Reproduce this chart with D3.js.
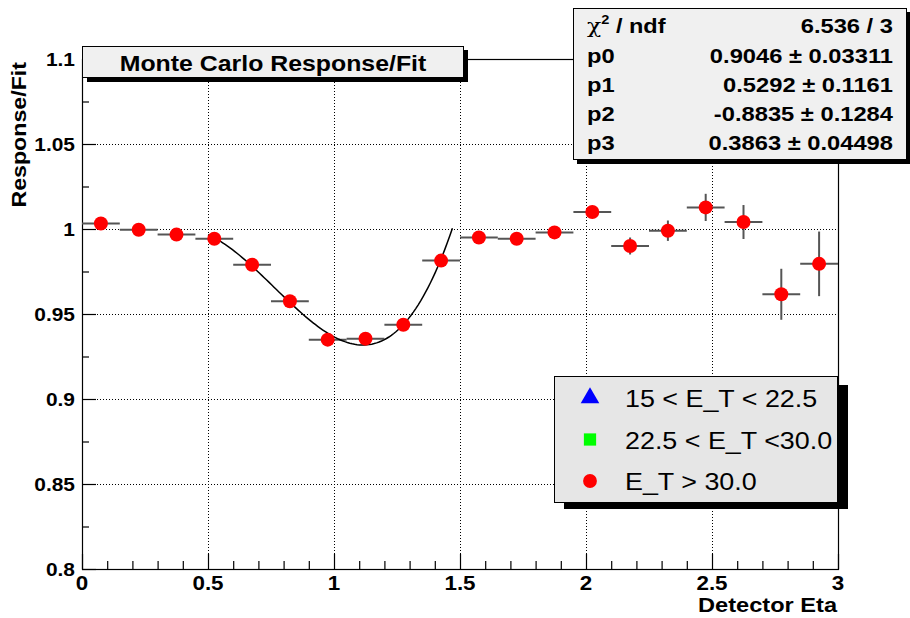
<!DOCTYPE html>
<html>
<head>
<meta charset="utf-8">
<script src="https://cdn.jsdelivr.net/npm/d3@7"></script>
<style>
  body { margin: 0; background: #fff; }
  text { font-family: "Liberation Sans", Arial, sans-serif; }
</style>
</head>
<body>
<script>
const width = 910;
const height = 618;

// bin centres (Detector Eta), bin half width 0.075
const etaBins = [0.075, 0.225, 0.375, 0.525, 0.675, 0.825, 0.975, 1.125, 1.275, 1.425,
	1.575, 1.725, 1.875, 2.025, 2.175, 2.325, 2.475, 2.625, 2.775, 2.925];
const response = [1.0032, 0.9996, 0.9967, 0.9943, 0.979, 0.9575, 0.9349, 0.9355, 0.9437, 0.9814,
	0.995, 0.9943, 0.998, 1.010, 0.990, 0.999, 1.0127, 1.0041, 0.9616, 0.9795];
const responseErr = [0.002, 0.002, 0.002, 0.002, 0.002, 0.002, 0.002, 0.002, 0.002, 0.002,
	0.002, 0.002, 0.002, 0.003, 0.005, 0.006, 0.008, 0.010, 0.015, 0.019];
const binHalf = 0.075;

// cubic fit parameters
const fitPars = [0.9046, 0.5292, -0.8835, 0.3863];
const fitRange = [0.5, 1.47];

const statLabels = ["p0", "p1", "p2", "p3"];
const statValues = ["0.9046 \u00b1 0.03311", "0.5292 \u00b1 0.1161", "-0.8835 \u00b1 0.1284", "0.3863 \u00b1 0.04498"];
const chiText = "6.536 / 3";

const legendLabels = ["15 < E_T < 22.5", "22.5 < E_T <30.0", "E_T > 30.0"];
const legendColors = ["#0000ff", "#00ff00", "#ff0000"];
const legendShapes = [d3.symbolTriangle, d3.symbolSquare, d3.symbolCircle];

const xTicks = [0, 0.5, 1, 1.5, 2, 2.5, 3];
const yTicks = [0.8, 0.85, 0.9, 0.95, 1, 1.05, 1.1];

const svg = d3.select("body").append("svg")
	.attr("width", width)
	.attr("height", height);

const x = d3.scaleLinear().domain([0, 3]).range([82, 838]);
const y = d3.scaleLinear().domain([0.8, 1.1]).range([569, 59]);

// the original font is wider than Arial: stretch along the text direction
const place = (px, py, sx, rot) => `translate(${px},${py}) rotate(${rot || 0}) scale(${sx},1)`;

// grid
const grid = svg.append("g").attr("stroke", "#000").attr("stroke-width", 1).attr("stroke-dasharray", "1,2");
grid.selectAll(".gx").data(xTicks.slice(1, -1)).enter().append("line")
	.attr("x1", d => x(d) + 0.5).attr("x2", d => x(d) + 0.5)
	.attr("y1", y(0.8)).attr("y2", y(1.1));
grid.selectAll(".gy").data(yTicks.slice(1, -1)).enter().append("line")
	.attr("y1", d => Math.round(y(d)) + 0.5).attr("y2", d => Math.round(y(d)) + 0.5)
	.attr("x1", x(0)).attr("x2", x(3));

// frame
svg.append("rect")
	.attr("x", x(0) + 0.5).attr("y", y(1.1) + 0.5)
	.attr("width", x(3) - x(0)).attr("height", y(0.8) - y(1.1))
	.attr("fill", "none").attr("stroke", "#000").attr("stroke-width", 1.2);

// axes with ROOT-like inward ticks
const xAxis = svg.append("g").attr("transform", `translate(0,${y(0.8)})`)
	.call(d3.axisTop(x).tickValues(d3.range(0, 3.001, 0.1)).tickSize(8).tickFormat(""));
xAxis.selectAll(".tick line").filter(d => Math.abs(d * 2 - Math.round(d * 2)) < 1e-6).attr("y2", -15);
xAxis.select(".domain").remove();
xAxis.selectAll("line").attr("stroke-width", 1.2);

svg.append("g").selectAll("text").data(xTicks).enter().append("text")
	.attr("transform", d => place(x(d), 590, 1.12))
	.attr("text-anchor", "middle").attr("font-size", 20).attr("font-weight", "bold")
	.text(d => d);

const yAxis = svg.append("g").attr("transform", `translate(${x(0)},0)`)
	.call(d3.axisRight(y).tickValues(d3.range(0.8, 1.1001, 0.025)).tickSize(7).tickFormat(""));
yAxis.selectAll(".tick line").filter(d => Math.abs(d * 20 - Math.round(d * 20)) < 1e-6).attr("x2", 14);
yAxis.select(".domain").remove();
yAxis.selectAll("line").attr("stroke-width", 1.2);

svg.append("g").selectAll("text").data(yTicks).enter().append("text")
	.attr("transform", d => place(75, y(d) + 7, 1.1))
	.attr("text-anchor", "end").attr("font-size", 19).attr("font-weight", "bold")
	.text(d => d);

// axis titles
svg.append("text")
	.attr("transform", place(26, 62, 1.16, -90))
	.attr("text-anchor", "end").attr("font-size", 20).attr("font-weight", "bold")
	.text("Response/Fit");
svg.append("text")
	.attr("transform", place(837, 612, 1.18))
	.attr("text-anchor", "end").attr("font-size", 20).attr("font-weight", "bold")
	.text("Detector Eta");

// error bars
const pts = etaBins.map((e, i) => ({ x: e, y: response[i], ey: responseErr[i] }));
const err = svg.append("g").attr("stroke", "#555").attr("stroke-width", 2);
err.selectAll(".ex").data(pts).enter().append("line")
	.attr("x1", d => x(d.x - binHalf)).attr("x2", d => x(d.x + binHalf))
	.attr("y1", d => y(d.y)).attr("y2", d => y(d.y));
err.selectAll(".ey").data(pts).enter().append("line")
	.attr("x1", d => x(d.x)).attr("x2", d => x(d.x))
	.attr("y1", d => y(d.y - d.ey)).attr("y2", d => y(d.y + d.ey));

// fit curve
const fitFn = v => fitPars[0] + fitPars[1] * v + fitPars[2] * v * v + fitPars[3] * v * v * v;
const fitX = d3.range(fitRange[0], fitRange[1] + 1e-9, (fitRange[1] - fitRange[0]) / 100);
svg.append("path")
	.datum(fitX)
	.attr("fill", "none").attr("stroke", "#000").attr("stroke-width", 1.5)
	.attr("d", d3.line().x(d => x(d)).y(d => y(fitFn(d))));

// markers
svg.append("g").selectAll("circle").data(pts).enter().append("circle")
	.attr("cx", d => x(d.x)).attr("cy", d => y(d.y)).attr("r", 7)
	.attr("fill", "#ff0000");

// title box
svg.append("rect").attr("x", 87).attr("y", 50).attr("width", 381).attr("height", 32).attr("fill", "#000");
svg.append("rect").attr("x", 82.5).attr("y", 46.5).attr("width", 381).attr("height", 31)
	.attr("fill", "#f0f0f0").attr("stroke", "#000").attr("stroke-width", 1);
svg.append("text").attr("transform", place(273, 71, 1.13))
	.attr("text-anchor", "middle").attr("font-size", 22).attr("font-weight", "bold")
	.text("Monte Carlo Response/Fit");

// stats box
svg.append("rect").attr("x", 577).attr("y", 12).attr("width", 333).attr("height", 152).attr("fill", "#000");
svg.append("rect").attr("x", 573.5).attr("y", 8.5).attr("width", 333).attr("height", 151)
	.attr("fill", "#f0f0f0").attr("stroke", "#000").attr("stroke-width", 1);
const stats = svg.append("g").attr("font-size", 21).attr("font-weight", "bold");
const chiLabel = stats.append("text").attr("transform", place(587, 33, 1.12));
chiLabel.append("tspan").attr("font-family", "DejaVu Serif, serif").attr("font-weight", "normal").text("\u03c7");
chiLabel.append("tspan").attr("font-size", 13).attr("dy", -9).text("2");
chiLabel.append("tspan").attr("dy", 9).text(" / ndf");
stats.append("text").attr("transform", place(893, 33, 1.13)).attr("text-anchor", "end").text(chiText);
stats.selectAll(".sl").data(statLabels).enter().append("text")
	.attr("transform", (d, i) => place(587, 63 + i * 29, 1.13)).text(d => d);
stats.selectAll(".sv").data(statValues).enter().append("text")
	.attr("transform", (d, i) => place(893, 63 + i * 29, 1.13))
	.attr("text-anchor", "end").text(d => d);

// legend
svg.append("rect").attr("x", 564).attr("y", 385).attr("width", 284).attr("height", 124).attr("fill", "#000");
svg.append("rect").attr("x", 554.5).attr("y", 376.5).attr("width", 283).attr("height", 126)
	.attr("fill", "#e6e6e6").attr("stroke", "#000").attr("stroke-width", 1);
const leg = svg.append("g").selectAll("g").data(legendLabels).enter().append("g")
	.attr("transform", (d, i) => `translate(590,${398 + i * 41.5})`);
leg.append("path")
	.attr("d", (d, i) => d3.symbol().type(legendShapes[i]).size(150)())
	.attr("fill", (d, i) => legendColors[i]);
leg.append("text").attr("transform", place(35, 9, 1.12))
	.attr("font-size", 24).text(d => d);
</script>
</body>
</html>
